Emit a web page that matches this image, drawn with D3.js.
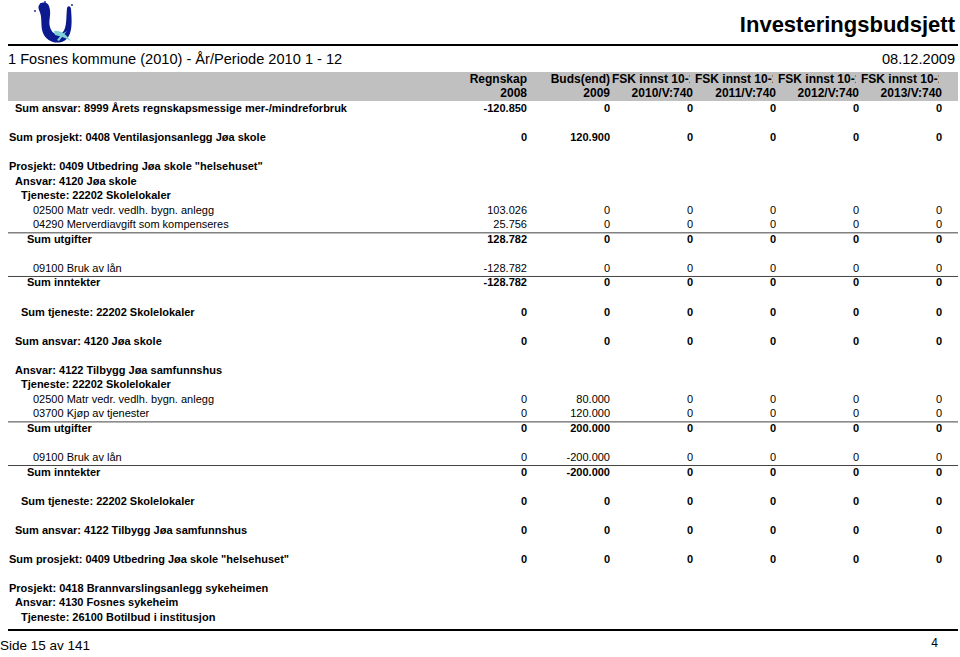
<!DOCTYPE html>
<meta charset="utf-8">
<head>
  <script src="https://cdn.jsdelivr.net/npm/d3@7"></script>
  <style>
    body { margin: 0; background: #fff; }
    text { font-family: "Liberation Sans", Arial, sans-serif; fill: #000; }
    .b { font-weight: bold; }
  </style>
</head>
<body>
<script>

// Overskrifter for kolonnene
var colTop = ["Regnskap", "Buds(end)", "FSK innst 10-13", "FSK innst 10-13", "FSK innst 10-13", "FSK innst 10-13"];
var colBottom = ["2008", "2009", "2010/V:740", "2011/V:740", "2012/V:740", "2013/V:740"];

// Radene: tekst, innrykk, fet, linjenummer
var rowLabels = [
  "Sum ansvar: 8999 Årets regnskapsmessige mer-/mindreforbruk",
  "Sum prosjekt: 0408 Ventilasjonsanlegg Jøa skole",
  "Prosjekt: 0409 Utbedring Jøa skole \"helsehuset\"",
  "Ansvar: 4120 Jøa skole",
  "Tjeneste: 22202 Skolelokaler",
  "02500 Matr vedr. vedlh. bygn. anlegg",
  "04290 Merverdiavgift som kompenseres",
  "Sum utgifter",
  "09100 Bruk av lån",
  "Sum inntekter",
  "Sum tjeneste: 22202 Skolelokaler",
  "Sum ansvar: 4120 Jøa skole",
  "Ansvar: 4122 Tilbygg Jøa samfunnshus",
  "Tjeneste: 22202 Skolelokaler",
  "02500 Matr vedr. vedlh. bygn. anlegg",
  "03700 Kjøp av tjenester",
  "Sum utgifter",
  "09100 Bruk av lån",
  "Sum inntekter",
  "Sum tjeneste: 22202 Skolelokaler",
  "Sum ansvar: 4122 Tilbygg Jøa samfunnshus",
  "Sum prosjekt: 0409 Utbedring Jøa skole \"helsehuset\"",
  "Prosjekt: 0418 Brannvarslingsanlegg sykeheimen",
  "Ansvar: 4130 Fosnes sykeheim",
  "Tjeneste: 26100 Botilbud i institusjon"
];
var rowLine = [0, 2, 4, 5, 6, 7, 8, 9, 11, 12, 14, 16, 18, 19, 20, 21, 22, 24, 25, 27, 29, 31, 33, 34, 35];
var rowLevel = [1, 0, 0, 1, 2, 4, 4, 3, 4, 3, 2, 1, 1, 2, 4, 4, 3, 4, 3, 2, 1, 0, 0, 1, 2];
var rowBold = [1, 1, 1, 1, 1, 0, 0, 1, 0, 1, 1, 1, 1, 1, 0, 0, 1, 0, 1, 1, 1, 1, 1, 1, 1];

// Verdier pr kolonne (null = ingen verdi)
var regnskap2008 = [-120850, 0, null, null, null, 103026, 25756, 128782, -128782, -128782, 0, 0, null, null, 0, 0, 0, 0, 0, 0, 0, 0, null, null, null];
var buds2009     = [0, 120900, null, null, null, 0, 0, 0, 0, 0, 0, 0, null, null, 80000, 120000, 200000, -200000, -200000, 0, 0, 0, null, null, null];
var fsk2010      = [0, 0, null, null, null, 0, 0, 0, 0, 0, 0, 0, null, null, 0, 0, 0, 0, 0, 0, 0, 0, null, null, null];
var fsk2011      = [0, 0, null, null, null, 0, 0, 0, 0, 0, 0, 0, null, null, 0, 0, 0, 0, 0, 0, 0, 0, null, null, null];
var fsk2012      = [0, 0, null, null, null, 0, 0, 0, 0, 0, 0, 0, null, null, 0, 0, 0, 0, 0, 0, 0, 0, null, null, null];
var fsk2013      = [0, 0, null, null, null, 0, 0, 0, 0, 0, 0, 0, null, null, 0, 0, 0, 0, 0, 0, 0, 0, null, null, null];
var columns = [regnskap2008, buds2009, fsk2010, fsk2011, fsk2012, fsk2013];

// Linjer under radene (linjenummer)
var ruleAfter = [8, 11, 21, 24];

var W = 960, H = 657;

var svg = d3.select("body").append("svg")
  .attr("width", W)
  .attr("height", H);

var fmt = d3.formatLocale({decimal: ",", thousands: ".", grouping: [3], currency: ["", ""], minus: "-"}).format(",.0f");

// skalaer
var xCol = d3.scalePoint().domain(d3.range(columns.length)).range([527, 942]);
var yRow = d3.scaleLinear().domain([0, 35]).range([108, 617]);
var xIndent = d3.scaleLinear().domain([0, 4]).range([9, 33]);

// Logo
var logo = svg.append("g");
logo.append("path")
  .attr("d", "M39,10 C36,2 47,0 49,6 C52,14 48,20 50,27 C52,34 58,37 63,32 C67,27 66,18 67,8 C68,5 71,6 71,9 C72,22 73,36 64,41 C56,45 46,41 43,33 C40,25 43,18 39,10 Z")
  .attr("fill", "#0b1a8f");
logo.append("path")
  .attr("d", "M54,31 C60,30 66,34 71,41 C66,38 60,36 55,35 Z")
  .attr("fill", "#7fd3d8");
logo.append("path")
  .attr("d", "M57,40 C60,36 63,33 67,31 C64,35 61,38 59,41 Z")
  .attr("fill", "#7fd3d8");
logo.selectAll("circle.dot")
  .data([[35, 11], [41, 4], [72, 5], [45, 2]])
  .enter().append("circle")
  .attr("cx", function(d) { return d[0]; })
  .attr("cy", function(d) { return d[1]; })
  .attr("r", 0.9)
  .attr("fill", "#0b1a8f");

// Tittel
svg.append("text")
  .attr("class", "b")
  .attr("x", 955).attr("y", 32)
  .attr("text-anchor", "end")
  .style("font-size", "22px")
  .text("Investeringsbudsjett");

svg.append("line")
  .attr("x1", 8).attr("x2", 958)
  .attr("y1", 45).attr("y2", 45)
  .attr("stroke", "#000").attr("stroke-width", 2);

svg.append("text")
  .attr("x", 8).attr("y", 64)
  .style("font-size", "14.6px")
  .text("1 Fosnes kommune (2010) - År/Periode 2010 1 - 12");

svg.append("text")
  .attr("x", 955).attr("y", 64)
  .attr("text-anchor", "end")
  .style("font-size", "14.6px")
  .text("08.12.2009");

// Grå topprad
svg.append("rect")
  .attr("x", 8).attr("y", 72)
  .attr("width", 950).attr("height", 29)
  .attr("fill", "#c0c0c0");

var defs = svg.append("defs");
colTop.forEach(function(t, i) {
  defs.append("clipPath").attr("id", "clip" + i)
    .append("rect")
    .attr("x", xCol(i) - 81).attr("y", 72)
    .attr("width", 78).attr("height", 15);
});

svg.selectAll("text.top")
  .data(colTop)
  .enter().append("text")
  .attr("class", "top b")
  .attr("x", function(d, i) { return i < 2 ? xCol(i) : xCol(i) - 81; })
  .attr("y", 83)
  .attr("text-anchor", function(d, i) { return i < 2 ? "end" : "start"; })
  .attr("clip-path", function(d, i) { return i < 2 ? null : "url(#clip" + i + ")"; })
  .style("font-size", "12px")
  .text(function(d) { return d; });

svg.selectAll("text.bottom")
  .data(colBottom)
  .enter().append("text")
  .attr("class", "bottom b")
  .attr("x", function(d, i) { return xCol(i); })
  .attr("y", 97)
  .attr("text-anchor", "end")
  .style("font-size", "12px")
  .text(function(d) { return d; });

// Rader
var rows = svg.selectAll("g.row")
  .data(rowLabels)
  .enter().append("g")
  .attr("class", function(d, i) { return rowBold[i] ? "row b" : "row"; })
  .attr("transform", function(d, i) { return "translate(0," + yRow(rowLine[i]) + ")"; })
  .style("font-size", "11px");

rows.append("text")
  .attr("x", function(d, i) { return xIndent(rowLevel[i]); })
  .attr("dy", "0.36em")
  .text(function(d) { return d; });

rows.each(function(d, i) {
  var g = d3.select(this);
  columns.forEach(function(col, c) {
    if (col[i] === null) return;
    g.append("text")
      .attr("x", xCol(c))
      .attr("dy", "0.36em")
      .attr("text-anchor", "end")
      .text(fmt(col[i]));
  });
});

// Tynne linjer
svg.selectAll("line.rule")
  .data(ruleAfter)
  .enter().append("line")
  .attr("class", "rule")
  .attr("x1", 8).attr("x2", 958)
  .attr("y1", function(d) { return yRow(d) + 8.5; })
  .attr("y2", function(d) { return yRow(d) + 8.5; })
  .attr("stroke", "#444").attr("stroke-width", 1);

// Bunn
svg.append("line")
  .attr("x1", 8).attr("x2", 958)
  .attr("y1", 630).attr("y2", 630)
  .attr("stroke", "#000").attr("stroke-width", 2);

svg.append("text")
  .attr("x", 0).attr("y", 650)
  .style("font-size", "13.5px")
  .text("Side 15 av 141");

svg.append("text")
  .attr("x", 938).attr("y", 647)
  .attr("text-anchor", "end")
  .style("font-size", "12px")
  .text("4");

</script>
</body>
